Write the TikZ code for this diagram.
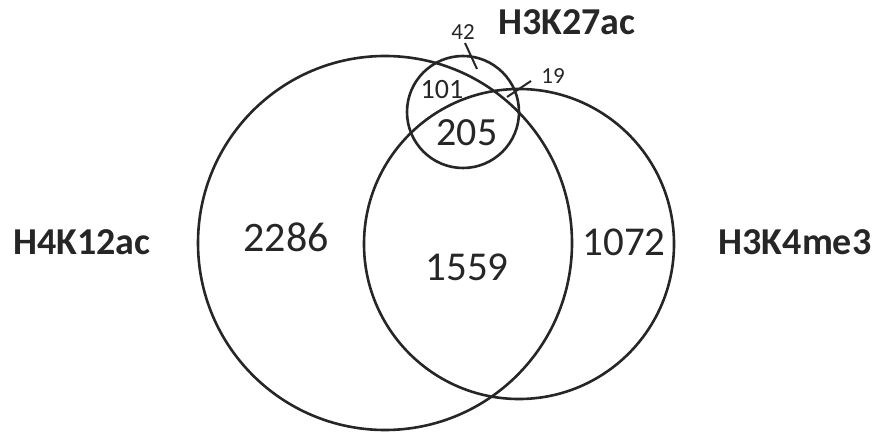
\documentclass[tikz,border=0pt]{standalone}
\usepackage{fontspec}
\setmainfont{Carlito}
\definecolor{ink}{HTML}{262626}
\begin{document}
\begin{tikzpicture}[x=1pt,y=-1pt,
  ring/.style={draw=ink,line width=2.6pt},
  num/.style={text=ink,inner sep=0pt,anchor=center},
  setlabel/.style={text=ink,inner sep=0pt,anchor=center,font=\fontsize{38}{40}\selectfont\bfseries},
  leader/.style={draw=ink,line width=2pt}]
\useasboundingbox (0,0) rectangle (877,435);
\node[ring,circle,minimum size=374pt,inner sep=0pt] (A) at (385,243) {};
\node[ring,circle,minimum size=310pt,inner sep=0pt] (B) at (519,244) {};
\node[ring,circle,minimum size=112pt,inner sep=0pt] (C) at (463,112) {};
\node[setlabel] (LA) at (82,242) {H4K12ac};
\node[setlabel] (LB) at (795,242) {H3K4me3};
\node[setlabel] (LC) at (567,22) {H3K27ac};
\node[num,font=\fontsize{42}{44}\selectfont] (n2286) at (286,237) {2286};
\node[num,font=\fontsize{41}{44}\selectfont] (n1559) at (467,267) {1559};
\node[num,font=\fontsize{41}{44}\selectfont] (n1072) at (624,242) {1072};
\node[num,font=\fontsize{40}{44}\selectfont] (n205) at (467,133) {205};
\node[num,font=\fontsize{28}{30}\selectfont] (n101) at (442,90) {101};
\node[num,font=\fontsize{23}{25}\selectfont] (n42) at (463,32) {42};
\node[num,font=\fontsize{23}{25}\selectfont] (n19) at (553,76) {19};
\coordinate (p42a) at (465,43);
\coordinate (p42b) at (477,69);
\coordinate (p19a) at (531,81);
\coordinate (p19b) at (507,97);
\draw[leader] (p42a) -- (p42b);
\draw[leader] (p19a) -- (p19b);
\end{tikzpicture}
\end{document}
